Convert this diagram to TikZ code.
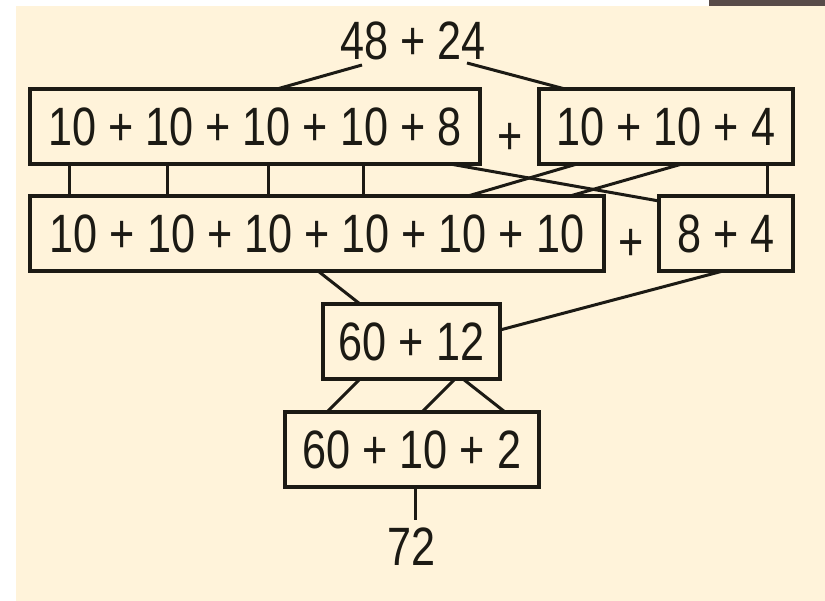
\documentclass[tikz,border=0pt]{standalone}
\usepackage{fontspec}
\setmainfont[FakeStretch=0.8]{Liberation Sans}
\usetikzlibrary{calc}
\definecolor{cream}{HTML}{FFF3DA}
\definecolor{ink}{HTML}{1C1A14}
\definecolor{barcol}{HTML}{584B49}
\tikzset{
  sumbox/.style={draw=ink, line width=4pt, inner sep=0pt, outer sep=0pt, minimum height=75pt,
    font=\fontsize{54}{60}\selectfont, text=ink},
  lbl/.style={inner sep=0pt, outer sep=0pt, font=\fontsize{54}{60}\selectfont, text=ink},
  ln/.style={draw=ink, line width=3pt},
}
\begin{document}
\begin{tikzpicture}[x=1pt,y=-1pt]
\useasboundingbox (0,0) rectangle (825,601);
\fill[white] (0,0) rectangle (825,601);
\fill[cream] (16,6) rectangle (825,601);
\fill[barcol] (709,0) rectangle (825,6);

\node[lbl] (t) at (413,41) {48 + 24};
\node[sumbox, minimum width=450pt] (b1) at (255,126.5) {10 + 10 + 10 + 10 + 8};
\node[sumbox, minimum width=254pt] (b2) at (666,126.5) {10 + 10 + 4};
\node[lbl, anchor=base] (p1) at (510,155) {+};
\node[sumbox, minimum width=574pt] (b3) at (317,233.5) {10 + 10 + 10 + 10 + 10 + 10};
\node[sumbox, minimum width=134pt] (b4) at (726,233.5) {8 + 4};
\node[lbl, anchor=base] (p2) at (631,261) {+};
\node[sumbox, minimum width=177pt] (b5) at (411.5,341.5) {60 + 12};
\node[sumbox, minimum width=254pt] (b6) at (412,449.5) {60 + 10 + 2};
\node[lbl] (r) at (412,547) {72};

% top to first row
\draw[ln] ([shift={(-51,24)}]t.center) -- ([shift={(247,0)}]b1.north west);
\draw[ln] ([shift={(54,22)}]t.center) -- ([shift={(26,0)}]b2.north west);
% verticals
\foreach \dx in {39,137,238,333}
  \draw[ln] ([shift={(\dx,0)}]b1.south west) -- ([shift={(\dx,0)}]b3.north west);
\draw[ln] ([shift={(228,0)}]b2.south west) -- ([shift={(108,0)}]b4.north west);
% crossing lines
\draw[ln] ([shift={(420,0)}]b1.south west) -- ([shift={(0,5)}]b4.north west);
\draw[ln] ([shift={(38,0)}]b2.south west) -- ([shift={(438,0)}]b3.north west);
\draw[ln] ([shift={(143,0)}]b2.south west) -- ([shift={(540,0)}]b3.north west);
% second row to 60+12
\draw[ln] ([shift={(288,0)}]b3.south west) -- ([shift={(37,0)}]b5.north west);
\draw[ln] ([shift={(64,0)}]b4.south west) -- ([shift={(0,26)}]b5.north east);
% 60+12 to 60+10+2
\draw[ln] ([shift={(37,0)}]b5.south west) -- ([shift={(42,0)}]b6.north west);
\draw[ln] ([shift={(132,0)}]b5.south west) -- ([shift={(137,0)}]b6.north west);
\draw[ln] ([shift={(140,0)}]b5.south west) -- ([shift={(220,0)}]b6.north west);
% to result
\draw[ln] ([shift={(130,0)}]b6.south west) -- ([shift={(3,-27)}]r.center);
\end{tikzpicture}
\end{document}
